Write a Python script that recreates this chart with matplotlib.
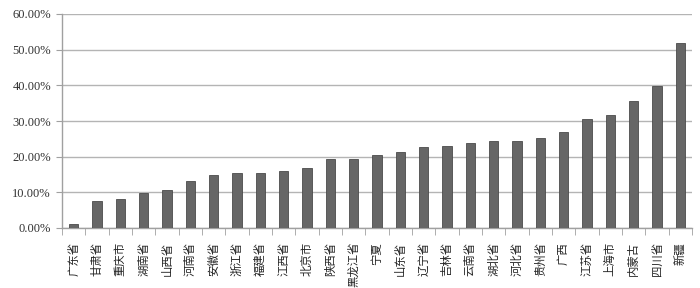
import numpy as np
import matplotlib
matplotlib.use("agg")
import matplotlib.pyplot as plt
from matplotlib.ticker import FuncFormatter, FixedLocator

provinces = ["广东省", "甘肃省", "重庆市", "湖南省", "山西省", "河南省", "安徽省",
             "浙江省", "福建省", "江西省", "北京市", "陕西省", "黑龙江省", "宁夏",
             "山东省", "辽宁省", "吉林省", "云南省", "湖北省", "河北省", "贵州省",
             "广西", "江苏省", "上海市", "内蒙古", "四川省", "新疆"]
values = [1.1, 7.5, 8.2, 9.9, 10.6, 13.2, 14.8,
          15.4, 15.3, 15.9, 16.8, 19.3, 19.3, 20.6,
          21.4, 22.8, 23.1, 23.9, 24.3, 24.3, 25.1,
          26.8, 30.6, 31.6, 35.6, 39.7, 52.0]

fig = plt.figure(figsize=(7, 2.88), dpi=100)
ax = fig.add_axes([62/700, 1-228/288, 630/700, 214/288])

x = np.arange(len(provinces))
ax.bar(x, values, width=0.4, color="#666666", edgecolor="#4a4a4a", linewidth=0.6, zorder=3)

ax.set_xlim(-0.5, len(provinces)-0.5)
ax.set_ylim(0, 60)
ax.set_yticks(np.arange(0, 61, 10))
ax.yaxis.set_major_formatter(FuncFormatter(lambda v, p: "%.2f%%" % v))
ax.grid(axis="y", color="#b4b4b4", linewidth=1.0, zorder=0)

for s in ["top", "right"]:
    ax.spines[s].set_visible(False)
for s in ["left", "bottom"]:
    ax.spines[s].set_color("#a0a0a0")
    ax.spines[s].set_linewidth(1.0)

# category labels written sideways (reading bottom to top), ticks between categories
ax.set_xticks(x)
ax.set_xticklabels(provinces, family=["Noto Sans CJK SC"], rotation=90,
                   fontsize=8.2, ha="center", va="top", color="#222222")
ax.tick_params(axis="x", which="major", length=0, pad=10)
ax.xaxis.set_minor_locator(FixedLocator(np.arange(-0.5, len(provinces), 1)))
ax.tick_params(axis="x", which="minor", length=5, color="#a0a0a0", direction="out")
ax.tick_params(axis="y", length=4, color="#a0a0a0", pad=4, labelsize=9, labelcolor="#333333")
for lab in ax.get_yticklabels():
    lab.set_family("Liberation Serif")

fig.savefig("out.png", dpi=100)
